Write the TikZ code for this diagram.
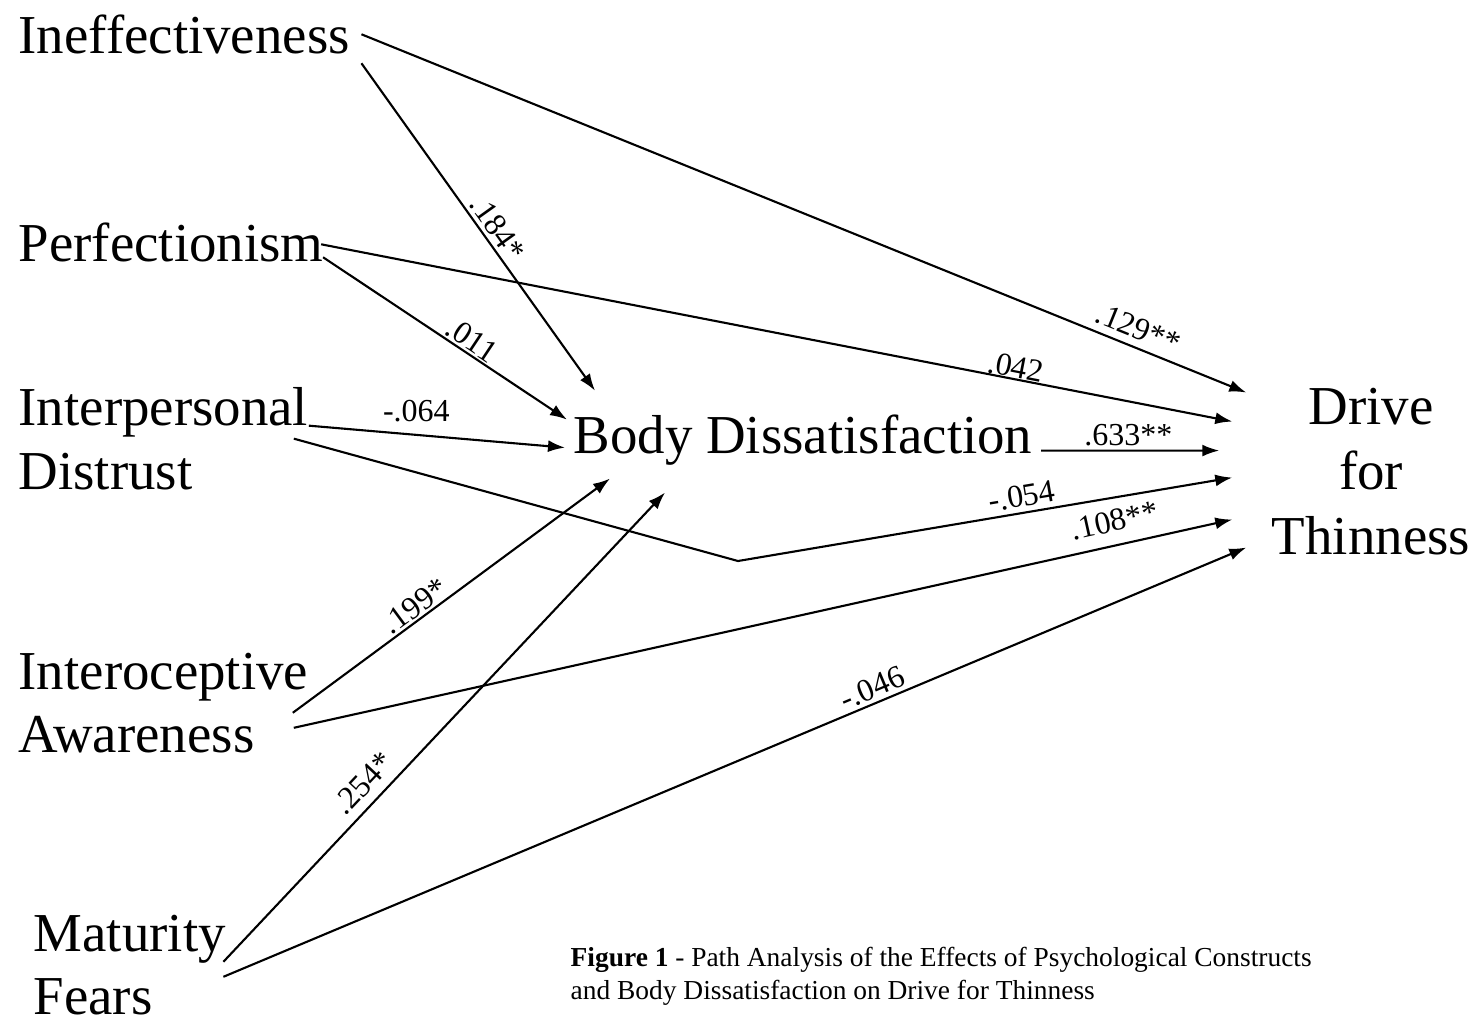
\documentclass[tikz,border=0pt]{standalone}
\usepackage{fontspec}
\setmainfont{Liberation Serif}
\usetikzlibrary{arrows.meta,calc}

\begin{document}
\begin{tikzpicture}[
  x=0.01cm, y=-0.01cm,
  var/.style={inner sep=0pt, align=left, anchor=north west, font=\fontsize{15.6}{18}\selectfont},
  outcome/.style={inner sep=0pt, align=center, font=\fontsize{15.6}{18.6}\selectfont},
  coef/.style={inner sep=1pt, font=\fontsize{9.1}{11}\selectfont},
  caption/.style={inner sep=0pt, align=left, anchor=north west, font=\fontsize{7.8}{9.4}\selectfont},
  arrow/.style={-{Latex[length=1.7mm,width=1.2mm]}, line width=0.6pt}
]
\useasboundingbox (0,0) rectangle (1477,1024);

% variables
\node[var] (ineff) at (18,14) {Ineffectiveness};
\node[var] (perf) at (18,222) {Perfectionism};
\node[var] (interp) at (18,387) {Interpersonal\\Distrust};
\node[var] (interoc) at (18,652) {Interoceptive\\Awareness};
\node[var] (matur) at (33,914) {Maturity\\Fears};
\node[var, anchor=base west] (body) at (573,453) {Body Dissatisfaction};
\node[outcome, anchor=north] (drive) at (1371,387) {Drive\\for\\Thinness};
\coordinate (bend) at (738,561);

% paths to body dissatisfaction
\draw[arrow] ($(ineff.east)+(11,29)$) -- node[coef, above, sloped, pos=0.53] {.184*} ($(body.north west)+(22,-23)$);
\draw[arrow] ($(perf.east)+(-1,15)$) -- node[coef, above, sloped, pos=0.58, inner sep=0.5pt] {.011} ($(body.west)+(-6,-20)$);
\draw[arrow] ($(interp.east)+(0,-13)$) -- node[coef, above, pos=0.42, inner sep=3.5pt] {-.064} ($(body.west)+(-8,8)$);
\draw[arrow] ($(interoc.east)+(-16,10)$) -- node[coef, above, sloped, pos=0.41, inner sep=0.5pt] {.199*} ($(body.south west)+(37,13)$);
\draw[arrow] ($(matur.east)+(-3,-3)$) -- node[coef, above, sloped, pos=0.35, inner sep=2.5pt] {.254*} ($(body.south west)+(92,27)$);

% paths to drive for thinness
\draw[arrow] ($(ineff.east)+(11,0)$) -- node[coef, above, sloped, pos=0.87, inner sep=2pt] {.129**} ($(drive.west)+(-25,-79)$);
\draw[arrow] ($(perf.east)+(-3,2)$) -- node[coef, above, sloped, pos=0.76, inner sep=0pt] {.042} ($(drive.west)+(-39,-50)$);
\draw[arrow] ($(body.east)+(8,11)$) -- node[coef, above, pos=0.49] {.633**} ($(drive.west)+(-52,-21)$);
\draw[arrow] ($(interp.east)+(-15,0)$) -- (bend) -- node[coef, above, sloped, pos=0.58, inner sep=1.4pt] {-.054} ($(drive.west)+(-39,6)$);
\draw[arrow] ($(interoc.east)+(-15,25)$) -- node[coef, above, sloped, pos=0.88, inner sep=3.5pt] {.108**} ($(drive.west)+(-39,48)$);
\draw[arrow] ($(matur.east)+(-3,12)$) -- node[coef, above, sloped, pos=0.64] {-.046} ($(drive.west)+(-25,76)$);

\node[caption] (cap) at (570,946) {\textbf{Figure 1} - Path Analysis of the Effects of Psychological Constructs\\and Body Dissatisfaction on Drive for Thinness};
\end{tikzpicture}
\end{document}
